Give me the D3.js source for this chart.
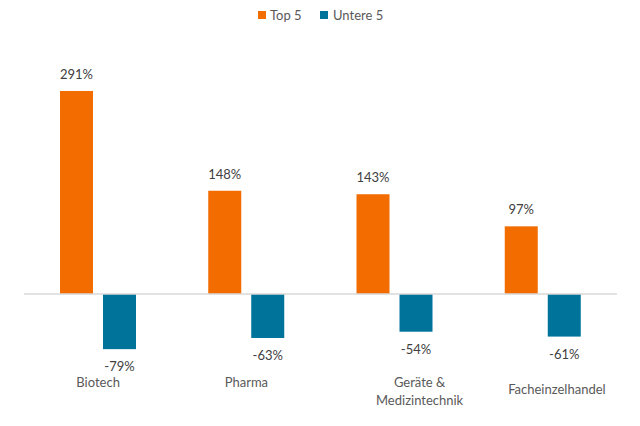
<!DOCTYPE html>
<html><head><meta charset="utf-8">
<script src="https://cdn.jsdelivr.net/npm/d3@7"></script>
<style>body{margin:0;background:#fff}svg{display:block}text{font-family:Lato,"Open Sans",sans-serif}</style>
</head><body>
<svg id="c" width="640" height="426"></svg>
<script>
const categories = ["Biotech", "Pharma", "Geräte & Medizintechnik", "Facheinzelhandel"];
const seriesNames = ["Top 5", "Untere 5"];
const top5 = [291, 148, 143, 97];
const untere5 = [-79, -63, -54, -61];
const colors = ["#F26C00", "#00739A"];

const svg = d3.select("#c");
const x = d3.scaleBand().domain(categories).range([24, 617]);
const xs = d3.scaleBand().domain(seriesNames).range([36, 112]).paddingInner(10/43);
const y = d3.scaleLinear().domain([-100, 300]).range([363.8, 84.7]);

const data = [];
categories.forEach((c, i) => {
  data.push({c, s: seriesNames[0], v: top5[i]});
  data.push({c, s: seriesNames[1], v: untere5[i]});
});

svg.selectAll("rect.bar").data(data).enter().append("rect")
  .attr("x", d => x(d.c) + xs(d.s))
  .attr("width", xs.bandwidth())
  .attr("y", d => y(Math.max(0, d.v)))
  .attr("height", d => Math.abs(y(d.v) - y(0)))
  .attr("fill", d => colors[seriesNames.indexOf(d.s)]);

svg.append("line").attr("x1", 24).attr("x2", 617).attr("y1", y(0)).attr("y2", y(0))
  .attr("stroke", "#d9d9d9").attr("stroke-width", 1.5);

svg.selectAll("text.val").data(data).enter().append("text")
  .attr("x", d => x(d.c) + xs(d.s) + xs.bandwidth()/2)
  .attr("y", d => d.v >= 0 ? y(d.v) - 12 : y(d.v) + 22)
  .attr("text-anchor", "middle").attr("font-size", 13).attr("fill", "#404040")
  .text(d => d.v + "%");

// category labels
const labelLayout = [
  {dx: 0, dy: 0, lines: ["Biotech"]},
  {dx: 0, dy: 0, lines: ["Pharma"]},
  {dx: 25, dy: 0, lines: ["Geräte &", "Medizintechnik"]},
  {dx: 14, dy: 7, lines: ["Facheinzelhandel"]}
];
categories.forEach((c, i) => {
  const L = labelLayout[i];
  const t = svg.append("text").attr("text-anchor", "middle").attr("font-size", 13).attr("fill", "#595959")
    .attr("x", x(c) + x.bandwidth()/2 + L.dx).attr("y", 387 + L.dy);
  L.lines.forEach((ln, j) => t.append("tspan").attr("x", x(c) + x.bandwidth()/2 + L.dx).attr("dy", j ? 18 : 0).text(ln));
});

// legend
const leg = [{x: 258, tx: 270}, {x: 320, tx: 333}];
seriesNames.forEach((s, i) => {
  svg.append("rect").attr("x", leg[i].x).attr("y", 11).attr("width", 8).attr("height", 8).attr("fill", colors[i]);
  svg.append("text").attr("x", leg[i].tx).attr("y", 20).attr("font-size", 13).attr("fill", "#595959").text(s);
});
</script>
</body></html>
